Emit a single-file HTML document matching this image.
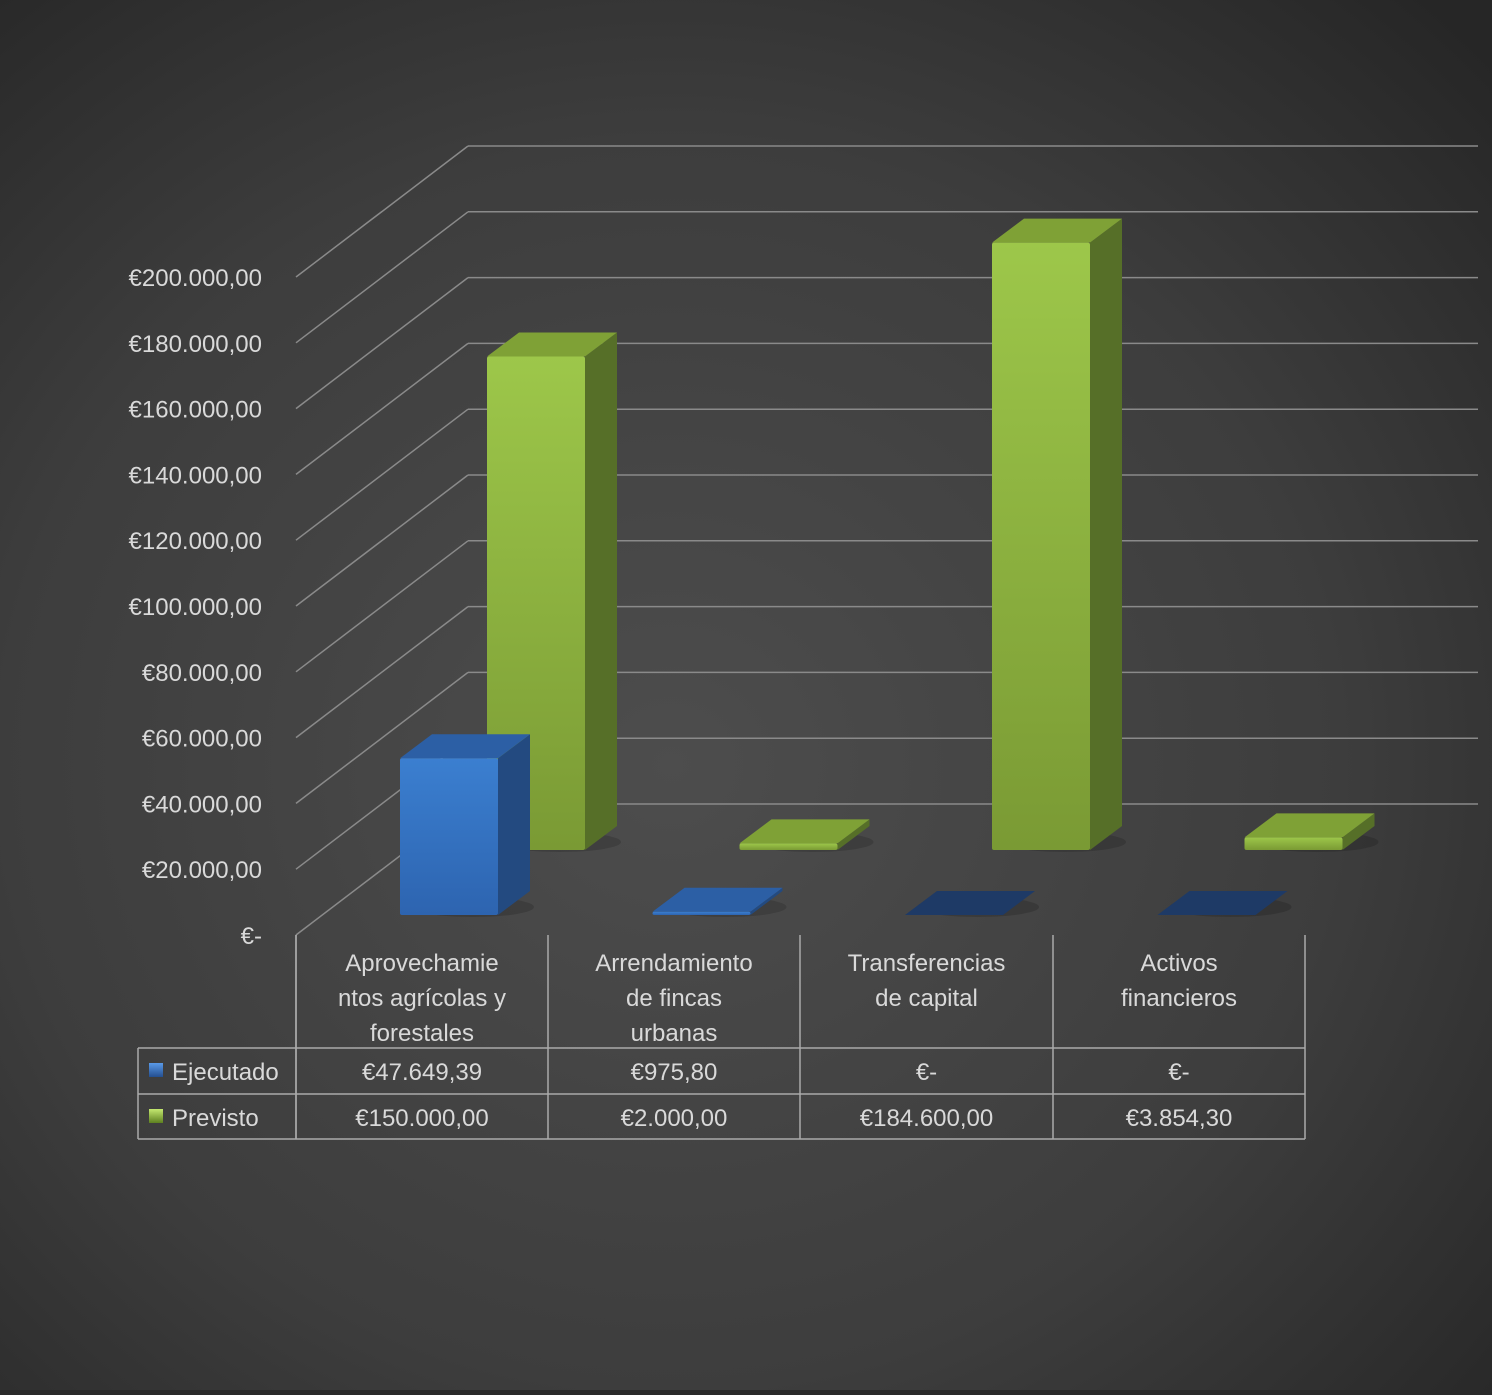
<!DOCTYPE html>
<html><head><meta charset="utf-8"><style>
html,body{margin:0;padding:0;background:#2a2a2a}
svg text{font-family:"Liberation Sans",sans-serif;fill:#d9d9d9}
</style></head><body>
<svg id="chart" width="1492" height="1390" viewBox="0 0 1492 1390" xmlns="http://www.w3.org/2000/svg">
<defs>
<radialGradient id="bg" cx="0.45" cy="0.55" r="0.75">
<stop offset="0" stop-color="#4d4d4d"/><stop offset="0.6" stop-color="#3d3d3d"/><stop offset="1" stop-color="#262626"/></radialGradient>
<linearGradient id="gF" x1="0" y1="0" x2="0" y2="1"><stop offset="0" stop-color="#9dc74a"/><stop offset="1" stop-color="#7a9a34"/></linearGradient>
<linearGradient id="bF" x1="0" y1="0" x2="0" y2="1"><stop offset="0" stop-color="#3b7fd0"/><stop offset="1" stop-color="#2d64b0"/></linearGradient>
<linearGradient id="lgB" x1="0" y1="0" x2="0" y2="1"><stop offset="0" stop-color="#5a9ae8"/><stop offset="1" stop-color="#244f90"/></linearGradient>
<linearGradient id="lgG" x1="0" y1="0" x2="0" y2="1"><stop offset="0" stop-color="#c4e870"/><stop offset="1" stop-color="#5d8020"/></linearGradient>
</defs>
<rect width="1492" height="1390" fill="url(#bg)"/>
<g id="grid"></g>
<g id="bars"></g>
<g id="axis"></g>
<g id="table"></g>
</svg>
<script>
const categories = [["Aprovechamie","ntos agrícolas y","forestales"],["Arrendamiento","de fincas","urbanas"],["Transferencias","de capital"],["Activos","financieros"]];
const ejecutado = [47649.39, 975.80, 0, 0];
const previsto = [150000, 2000, 184600, 3854.30];
const ejecutadoLabels = ["€47.649,39","€975,80","€-","€-"];
const previstoLabels = ["€150.000,00","€2.000,00","€184.600,00","€3.854,30"];
const yTicks = [0,20000,40000,60000,80000,100000,120000,140000,160000,180000,200000];
const yTickLabels = ["€-","€20.000,00","€40.000,00","€60.000,00","€80.000,00","€100.000,00","€120.000,00","€140.000,00","€160.000,00","€180.000,00","€200.000,00"];

const NS="http://www.w3.org/2000/svg";
function mk(tag,attrs,parent){const e=document.createElementNS(NS,tag);for(const k in attrs)e.setAttribute(k,attrs[k]);parent.appendChild(e);return e;}
const y0=935, pxPer=65.8/20000;
const yScale=v=>y0-v*pxPer;
const DX=172, DY=-131;
const grid=document.getElementById('grid'), bars=document.getElementById('bars'), axis=document.getElementById('axis'), table=document.getElementById('table');
yTicks.forEach((t,i)=>{
  const y=yScale(t);
  const d=mk('line',{x1:296,y1:y,x2:296+DX,y2:y+DY,stroke:'#8a8a8a','stroke-width':1.5},grid);
  
  
  const b=mk('line',{x1:296+DX,y1:y+DY,x2:1478,y2:y+DY,stroke:'#8a8a8a','stroke-width':1.5},grid);
  
  
});
mk('line',{x1:296,y1:y0,x2:296,y2:1139,stroke:'#aaa','stroke-width':1.5},grid);
yTickLabels.forEach((l,i)=>{
  const t=mk('text',{x:262,y:yScale(yTicks[i])+9,'text-anchor':'end','font-size':24},axis);
  t.textContent=l;
  
  
});
const catW=252.5, bw=98, bdx=32, bdy=-24;
function bar(x,yb,v,front,side,top,name){
  const yt=yb-v*pxPer;
  const g=mk('g',{},bars);
  
  
  mk('ellipse',{cx:x+bw/2+bdx/2+8,cy:yb-8,rx:bw/2+12,ry:10,fill:'#000',opacity:0.15},g);
  mk('polygon',{points:`${x+bw},${yb} ${x+bw+bdx},${yb+bdy} ${x+bw+bdx},${yt+bdy} ${x+bw},${yt}`,fill:side},g);
  mk('polygon',{points:`${x},${yt} ${x+bdx},${yt+bdy} ${x+bw+bdx},${yt+bdy} ${x+bw},${yt}`,fill:top},g);
  if(yb-yt>1) mk('rect',{x:x,y:yt,width:bw,height:yb-yt,fill:front,rx:2},g);
}
previsto.forEach((v,i)=>{bar(487+i*catW,850,v,'url(#gF)','#566f28','#7fa136','bar-previsto-'+i);});
ejecutado.forEach((v,i)=>{bar(400+i*catW,915,v,'url(#bF)','#234a80',v>0?'#2c5fa5':'#1e3a66','bar-ejecutado-'+i);});
const cols=[296,548,800,1053,1305];
cols.forEach(x=>mk('line',{x1:x,y1:935,x2:x,y2:1139,stroke:'#aaa','stroke-width':1.5},table));
mk('line',{x1:138,y1:1048,x2:1305,y2:1048,stroke:'#aaa','stroke-width':1.5},table);
mk('line',{x1:138,y1:1094,x2:1305,y2:1094,stroke:'#aaa','stroke-width':1.5},table);
mk('line',{x1:138,y1:1139,x2:1305,y2:1139,stroke:'#aaa','stroke-width':1.5},table);
mk('line',{x1:138,y1:1048,x2:138,y2:1139,stroke:'#aaa','stroke-width':1.5},table);
categories.forEach((lines,i)=>{
  const cx=(cols[i]+cols[i+1])/2;
  lines.forEach((l,j)=>{
    const t=mk('text',{x:cx,y:971+j*35,'text-anchor':'middle','font-size':24},table);
    t.textContent=l;
    
    
  });
  const a=mk('text',{x:cx,y:1080,'text-anchor':'middle','font-size':24},table);a.textContent=ejecutadoLabels[i];
  
  
  const b=mk('text',{x:cx,y:1126,'text-anchor':'middle','font-size':24},table);b.textContent=previstoLabels[i];
  
  
});
const k1=mk('rect',{x:149,y:1063,width:14,height:14,fill:'url(#lgB)'},table);


const k2=mk('rect',{x:149,y:1109,width:14,height:14,fill:'url(#lgG)'},table);


const l1=mk('text',{x:172,y:1080,'font-size':24},table);l1.textContent='Ejecutado';


const l2=mk('text',{x:172,y:1126,'font-size':24},table);l2.textContent='Previsto';


</script>
</body></html>
